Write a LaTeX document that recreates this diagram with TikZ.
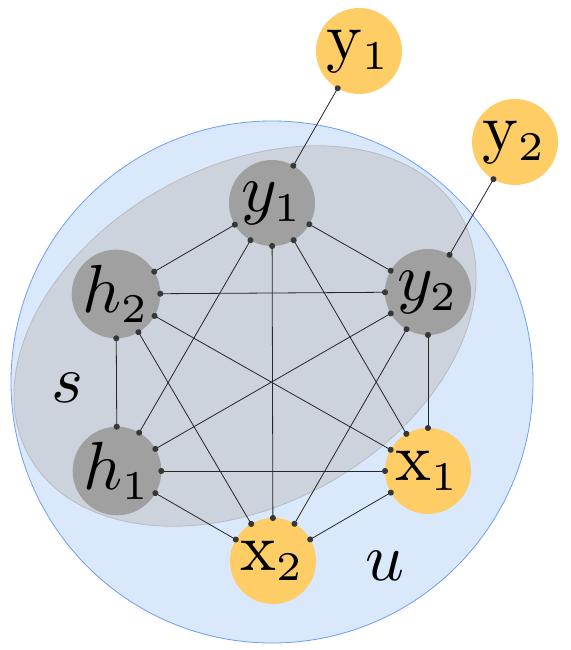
\documentclass[tikz,border=0pt]{standalone}
\usepackage{graphicx}
\usetikzlibrary{arrows.meta}
\definecolor{bluefill}{HTML}{DAE8FC}
\definecolor{blueline}{RGB}{110,158,245}
\definecolor{nodegray}{RGB}{160,160,160}
\definecolor{nodeyellow}{HTML}{FFCD66}
\definecolor{ellgray}{RGB}{192,192,192}
\definecolor{ellline}{RGB}{175,175,175}
\definecolor{dotcol}{RGB}{55,55,55}
\tikzset{
  gnode/.style={circle, fill=nodegray, minimum size=86pt, inner sep=0pt, outer sep=0pt},
  ynode/.style={gnode, fill=nodeyellow},
  link/.style={line width=0.8pt, draw=black!85, {Circle[length=6pt,color=dotcol]}-{Circle[length=6pt,color=dotcol]}, shorten <=-3pt, shorten >=-3pt},
  lbl/.style={inner sep=0pt}
}
\newcommand{\bigtxt}[1]{\scalebox{6.8}{$#1$}}
\newcommand{\sbs}[1]{{\mbox{\fontsize{6}{7}\selectfont #1}}}
\begin{document}
\begin{tikzpicture}[x=1pt,y=-1pt]
\useasboundingbox (0,0) rectangle (570,650);
% big circle u
\draw[fill=bluefill, draw=blueline, line width=0.8pt] (272,382) circle[radius=261pt];
% ellipse s
\draw[fill=ellgray, fill opacity=0.5, draw=ellline, draw opacity=0.7, line width=0.8pt, rotate around={29:(245,336)}] (245,336) ellipse[x radius=247pt, y radius=169pt];
% labels
\node[lbl] (slbl) at (67,388) {\bigtxt{s}};
\node[lbl] (ulbl) at (385,566) {\bigtxt{u}};
% nodes
\node[gnode] (y1) at (272,203) {\bigtxt{y_\sbs{1}}};
\node[gnode] (h2) at (116,294) {\bigtxt{h_\sbs{2}}};
\node[gnode] (y2) at (428,292) {\bigtxt{y_\sbs{2}}};
\node[gnode] (h1) at (117,471) {\bigtxt{h_\sbs{1}}};
\node[ynode] (x1) at (428,471) {\bigtxt{\mathrm{x}_\sbs{1}}};
\node[ynode] (x2) at (273,561) {\bigtxt{\mathrm{x}_\sbs{2}}};
\node[ynode] (Y1) at (359,51) {\bigtxt{\mathrm{y}_\sbs{1}}};
\node[ynode] (Y2) at (515,142) {\bigtxt{\mathrm{y}_\sbs{2}}};
% edges
\foreach \a/\b in {y1/h2, y1/y2, y1/h1, y1/x2, y1/x1, h2/y2, h2/h1, h2/x1, h2/x2, y2/h1, y2/x2, y2/x1, h1/x1, h1/x2, x1/x2, Y1/y1, Y2/y2}
  \draw[link] (\a) -- (\b);
\end{tikzpicture}
\end{document}
